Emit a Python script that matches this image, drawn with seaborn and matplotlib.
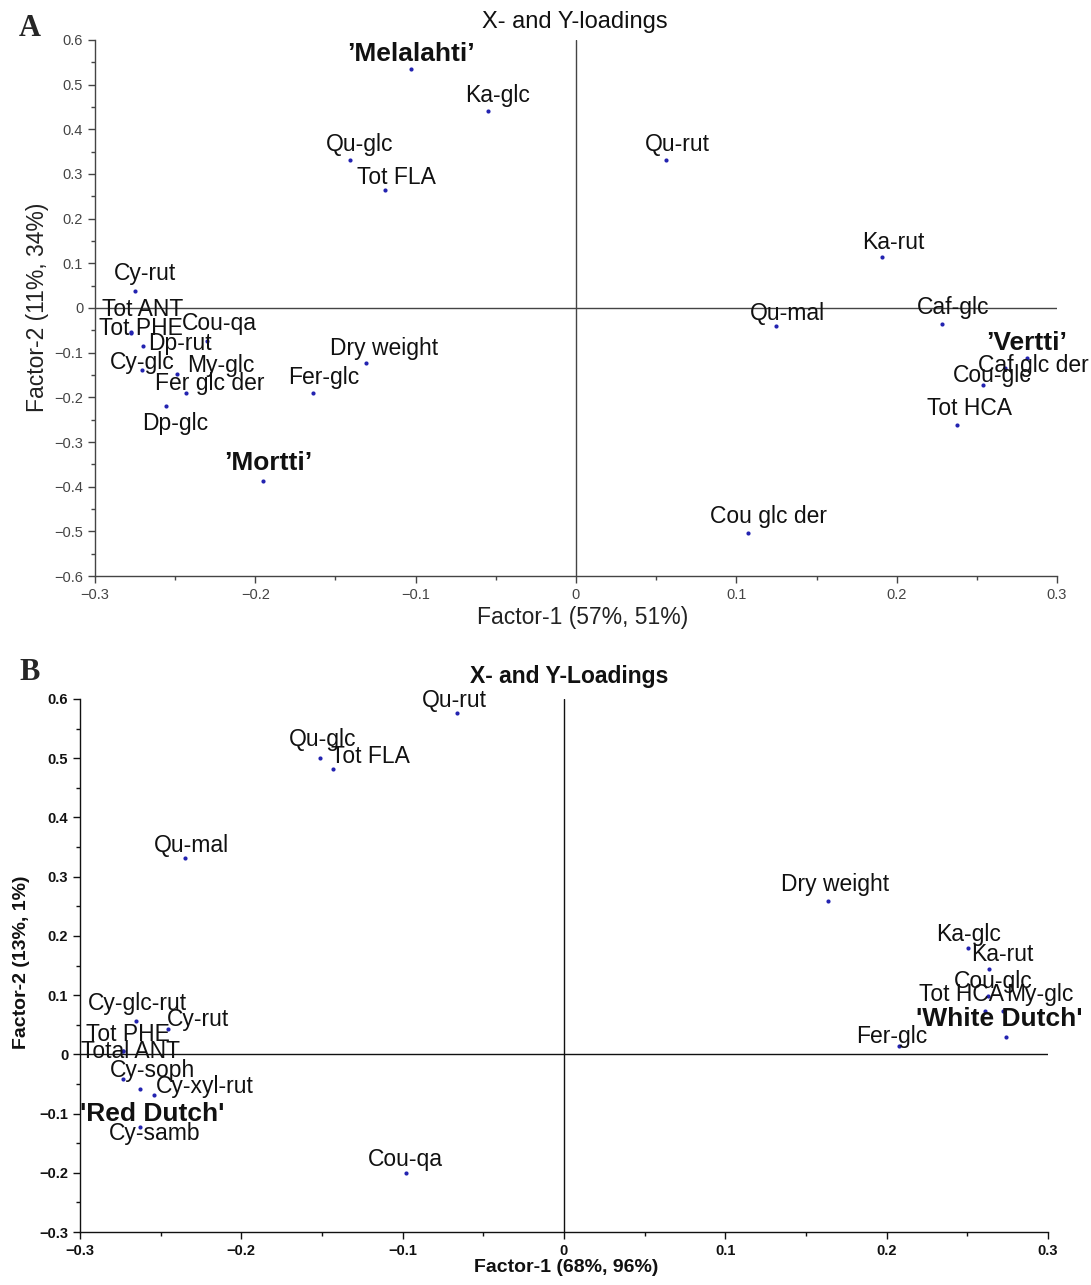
import numpy as np
import pandas as pd
import seaborn as sns
import matplotlib
matplotlib.use("Agg")
import matplotlib.pyplot as plt
from matplotlib.ticker import MultipleLocator, FuncFormatter

# ---- data ----
# panel A : X- and Y-loadings (Factor-1 / Factor-2)
names_a = ["’Melalahti’", "Ka-glc", "Qu-glc", "Tot FLA", "Qu-rut", "Ka-rut", "Cy-rut",
           "Tot ANT", "Tot PHE", "Cou-qa", "Dp-rut", "Cy-glc", "My-glc", "Fer glc der",
           "Dp-glc", "’Mortti’", "Fer-glc", "Dry weight", "Qu-mal", "Caf-glc", "’Vertti’",
           "Caf glc der", "Cou-glc", "Tot HCA", "Cou glc der"]
x_a = [-0.103, -0.055, -0.141, -0.119, 0.056, 0.191, -0.275,
       -0.2775, -0.2775, -0.230, -0.270, -0.2706, -0.249, -0.243,
       -0.256, -0.195, -0.164, -0.131, 0.125, 0.228, 0.281,
       0.2675, 0.254, 0.2375, 0.107]
y_a = [0.534, 0.442, 0.332, 0.265, 0.332, 0.115, 0.039,
       -0.053, -0.056, -0.073, -0.086, -0.138, -0.147, -0.191,
       -0.220, -0.388, -0.191, -0.124, -0.041, -0.035, -0.113,
       -0.135, -0.173, -0.261, -0.503]
cultivars_a = ["’Melalahti’", "’Mortti’", "’Vertti’"]

# panel B : X- and Y-Loadings
names_b = ["Qu-rut", "Qu-glc", "Tot FLA", "Qu-mal", "Dry weight", "Ka-glc", "Ka-rut",
           "Cou-glc", "Tot HCA", "My-glc", "'White Dutch'", "Fer-glc", "Cy-glc-rut",
           "Cy-rut", "Tot PHE", "Total ANT", "Cy-soph", "Cy-xyl-rut", "'Red Dutch'",
           "Cy-samb", "Cou-qa"]
x_b = [-0.0663, -0.151, -0.143, -0.235, 0.1637, 0.2505, 0.2635,
       0.263, 0.261, 0.272, 0.274, 0.2077, -0.2653,
       -0.2455, -0.2734, -0.2734, -0.2734, -0.254, -0.263,
       -0.263, -0.098]
y_b = [0.577, 0.501, 0.482, 0.332, 0.259, 0.179, 0.144,
       0.098, 0.074, 0.074, 0.030, 0.0135, 0.056,
       0.042, 0.005, 0.005, -0.042, -0.069, -0.058,
       -0.122, -0.201]
cultivars_b = ["'White Dutch'", "'Red Dutch'"]

# label offsets from the dot, in pixels (dx right, dy down) - layout only
off_a = {"’Melalahti’": (0, -15), "Ka-glc": (10, -15), "Qu-glc": (10, -15), "Tot FLA": (11, -12),
         "Qu-rut": (12, -15), "Ka-rut": (11, -14), "Cy-rut": (10, -17), "Tot ANT": (12, -22),
         "Tot PHE": (10, -5), "Cou-qa": (12, -17), "Dp-rut": (37, -3), "Cy-glc": (0, -7),
         "My-glc": (44, -8), "Fer glc der": (23, -10), "Dp-glc": (10, 17), "’Mortti’": (5, -18),
         "Fer-glc": (11, -16), "Dry weight": (18, -15), "Qu-mal": (11, -13), "Caf-glc": (12, -16),
         "’Vertti’": (0, -15), "Caf glc der": (28, -3), "Cou-glc": (9, -10), "Tot HCA": (13, -16),
         "Cou glc der": (21, -16)}
off_b = {"Qu-rut": (-3, -12), "Qu-glc": (2, -18), "Tot FLA": (37, -12), "Qu-mal": (7, -12),
         "Dry weight": (7, -16), "Ka-glc": (0, -14), "Ka-rut": (13, -15), "Cou-glc": (5, -15),
         "Tot HCA": (-24, -16), "My-glc": (37, -16), "'White Dutch'": (-7, -18), "Fer-glc": (-7, -10),
         "Cy-glc-rut": (1, -18), "Cy-rut": (30, -10), "Tot PHE": (5, -17), "Total ANT": (8, 0),
         "Cy-soph": (30, -9), "Cy-xyl-rut": (51, -9), "'Red Dutch'": (12, 25), "Cy-samb": (15, 7),
         "Cou-qa": (-1, -14)}

dfA = pd.DataFrame({"name": names_a, "f1": x_a, "f2": y_a})
dfB = pd.DataFrame({"name": names_b, "f1": x_b, "f2": y_b})

sns.set_style("ticks")
plt.rcParams['font.family'] = ['Liberation Sans', 'DejaVu Sans']

W, H = 1091, 1285
fig = plt.figure(figsize=(W / 100, H / 100), dpi=100)
axA = fig.add_axes([95 / W, 1 - 576 / H, 962 / W, 536 / H])
axB = fig.add_axes([80 / W, 1 - 1232 / H, 968 / W, 533 / H])


def fmt(v, pos):
    if abs(v) < 1e-9:
        return "0"
    return f"{v:.1f}".replace("-", "\u2212")


def setup(ax, ylo, yhi, col, bold):
    ax.set_xlim(-0.3, 0.3)
    ax.set_ylim(ylo, yhi)
    ax.xaxis.set_major_locator(MultipleLocator(0.1))
    ax.xaxis.set_minor_locator(MultipleLocator(0.05))
    ax.yaxis.set_major_locator(MultipleLocator(0.1))
    ax.yaxis.set_minor_locator(MultipleLocator(0.05))
    ax.xaxis.set_major_formatter(FuncFormatter(fmt))
    ax.yaxis.set_major_formatter(FuncFormatter(fmt))
    ax.tick_params(which="major", length=5, width=1, color=col, labelsize=10.5,
                   labelcolor=col, direction="out")
    ax.tick_params(which="minor", length=3, width=1, color=col, direction="out")
    for lab in ax.get_xticklabels() + ax.get_yticklabels():
        lab.set_fontweight("bold" if bold else "normal")
    sns.despine(ax=ax)
    for s in ("left", "bottom"):
        ax.spines[s].set_color(col)
        ax.spines[s].set_linewidth(1)
    ax.axhline(0, color=col, lw=1, zorder=1)
    ax.axvline(0, color=col, lw=1, zorder=1)
    ax.set_xlabel("")
    ax.set_ylabel("")


def label_points(ax, df, offsets, cultivars):
    for _, r in df.iterrows():
        dx, dy = offsets.get(r["name"], (8, -15))
        isc = r["name"] in cultivars
        ax.annotate(r["name"], (r["f1"], r["f2"]), xytext=(dx * 0.72, -dy * 0.72),
                    textcoords="offset points", ha="center", va="center",
                    fontsize=19 if isc else 16.5, fontweight="bold" if isc else "normal",
                    color="#111111", zorder=3, annotation_clip=False)


dot = "#2323b0"
sns.scatterplot(data=dfA, x="f1", y="f2", ax=axA, color=dot, s=9, linewidth=0, zorder=2)
sns.scatterplot(data=dfB, x="f1", y="f2", ax=axB, color=dot, s=9, linewidth=0, zorder=2)

setup(axA, -0.6, 0.6, "#444444", False)
setup(axB, -0.3, 0.6, "#111111", True)
label_points(axA, dfA, off_a, cultivars_a)
label_points(axB, dfB, off_b, cultivars_b)

# titles, axis labels, panel letters
fig.text(575 / W, 1 - 22 / H, "X- and Y-loadings", ha="center", va="center", fontsize=17, color="#111111")
fig.text(569 / W, 1 - 676 / H, "X- and Y-Loadings", ha="center", va="center", fontsize=16.5,
         fontweight="bold", color="#111111")
fig.text(583 / W, 1 - 617 / H, "Factor-1 (57%, 51%)", ha="center", va="center", fontsize=16.5, color="#222222")
fig.text(38 / W, 1 - 307 / H, "Factor-2 (11%, 34%)", ha="center", va="center", fontsize=16.5,
         rotation=90, color="#222222")
fig.text(566 / W, 1 - 1268 / H, "Factor-1 (68%, 96%)", ha="center", va="center", fontsize=14,
         fontweight="bold", color="#111111")
fig.text(22 / W, 1 - 962 / H, "Factor-2 (13%, 1%)", ha="center", va="center", fontsize=14,
         fontweight="bold", rotation=90, color="#111111")
fig.text(30 / W, 1 - 28 / H, "A", ha="center", va="center", fontsize=22, fontweight="bold",
         family="Liberation Serif")
fig.text(30 / W, 1 - 673 / H, "B", ha="center", va="center", fontsize=22, fontweight="bold",
         family="Liberation Serif")

fig.savefig("out.png", dpi=100)
